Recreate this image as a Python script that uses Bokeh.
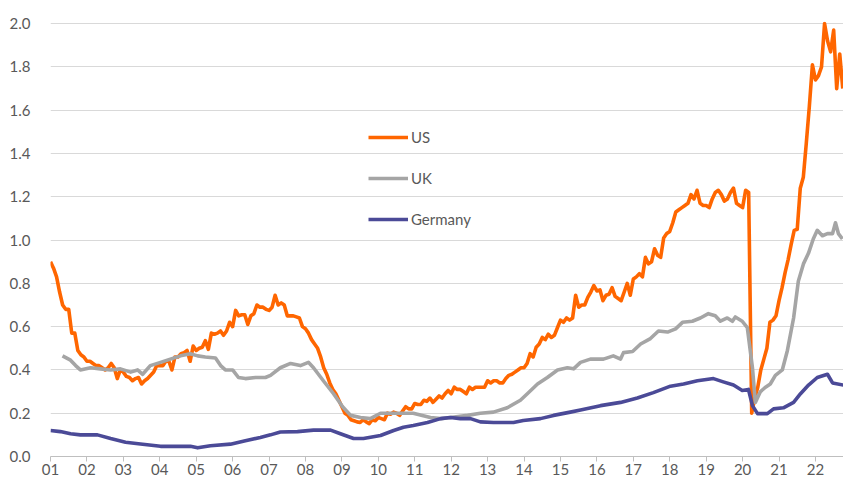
from bokeh.plotting import figure
from bokeh.models import Legend, LegendItem, FixedTicker, Range1d
from bokeh.embed import file_html
from bokeh.resources import INLINE

# ---- tick data ----
x_tick_years = list(range(2001, 2023))
x_tick_labels = ["01", "02", "03", "04", "05", "06", "07", "08", "09", "10", "11",
                 "12", "13", "14", "15", "16", "17", "18", "19", "20", "21", "22"]
y_ticks = [0.0, 0.2, 0.4, 0.6, 0.8, 1.0, 1.2, 1.4, 1.6, 1.8, 2.0]
y_tick_labels = ["0.0", "0.2", "0.4", "0.6", "0.8", "1.0", "1.2", "1.4", "1.6", "1.8", "2.0"]

# ---- US (monthly, Jan 2001 - Oct 2022) ----
us_2001 = [0.90, 0.87, 0.83, 0.76, 0.70, 0.68, 0.68, 0.57, 0.57, 0.49, 0.47, 0.46]
us_2002 = [0.44, 0.44, 0.43, 0.42, 0.42, 0.41, 0.40, 0.41, 0.43, 0.41, 0.36, 0.40]
us_2003 = [0.39, 0.37, 0.365, 0.35, 0.36, 0.365, 0.335, 0.35, 0.36, 0.375, 0.39, 0.42]
us_2004 = [0.42, 0.42, 0.44, 0.44, 0.40, 0.46, 0.46, 0.475, 0.48, 0.49, 0.44, 0.51]
us_2005 = [0.49, 0.50, 0.505, 0.535, 0.495, 0.57, 0.565, 0.57, 0.58, 0.56, 0.58, 0.62]
us_2006 = [0.60, 0.675, 0.65, 0.655, 0.655, 0.61, 0.65, 0.66, 0.70, 0.69, 0.69, 0.68]
us_2007 = [0.675, 0.69, 0.745, 0.70, 0.71, 0.70, 0.65, 0.65, 0.65, 0.645, 0.64, 0.60]
us_2008 = [0.59, 0.57, 0.54, 0.52, 0.50, 0.46, 0.41, 0.38, 0.34, 0.31, 0.29, 0.26]
us_2009 = [0.23, 0.20, 0.19, 0.17, 0.165, 0.16, 0.157, 0.17, 0.16, 0.152, 0.17, 0.165]
us_2010 = [0.18, 0.175, 0.17, 0.20, 0.195, 0.205, 0.20, 0.19, 0.21, 0.23, 0.22, 0.22]
us_2011 = [0.245, 0.24, 0.24, 0.26, 0.255, 0.27, 0.25, 0.265, 0.28, 0.27, 0.29, 0.305]
us_2012 = [0.29, 0.32, 0.31, 0.31, 0.30, 0.29, 0.32, 0.31, 0.32, 0.32, 0.32, 0.32]
us_2013 = [0.35, 0.34, 0.35, 0.35, 0.34, 0.34, 0.36, 0.375, 0.38, 0.39, 0.40, 0.41]
us_2014 = [0.41, 0.43, 0.475, 0.46, 0.505, 0.52, 0.55, 0.54, 0.565, 0.55, 0.56, 0.595]
us_2015 = [0.63, 0.62, 0.64, 0.63, 0.64, 0.745, 0.69, 0.70, 0.70, 0.735, 0.76, 0.79]
us_2016 = [0.765, 0.77, 0.72, 0.745, 0.75, 0.78, 0.74, 0.73, 0.72, 0.76, 0.80, 0.745]
us_2017 = [0.82, 0.83, 0.845, 0.83, 0.92, 0.89, 0.90, 0.96, 0.93, 0.92, 1.01, 1.03]
us_2018 = [1.04, 1.08, 1.13, 1.14, 1.15, 1.16, 1.17, 1.21, 1.19, 1.23, 1.17, 1.16]
us_2019 = [1.16, 1.15, 1.19, 1.22, 1.23, 1.21, 1.18, 1.19, 1.22, 1.24, 1.17, 1.16]
us_2020 = [1.15, 1.23, 1.22, 0.20, 0.27, 0.32, 0.40, 0.45, 0.50, 0.62, 0.63, 0.65]
us_2021 = [0.72, 0.78, 0.85, 0.91, 0.98, 1.045, 1.05, 1.24, 1.29, 1.45, 1.62, 1.81]
us_2022 = [1.74, 1.76, 1.80, 2.00, 1.92, 1.87, 1.97, 1.70, 1.86, 1.70]

us_values = (us_2001 + us_2002 + us_2003 + us_2004 + us_2005 + us_2006 + us_2007 +
             us_2008 + us_2009 + us_2010 + us_2011 + us_2012 + us_2013 + us_2014 +
             us_2015 + us_2016 + us_2017 + us_2018 + us_2019 + us_2020 + us_2021 + us_2022)
us_dates = [2001 + i / 12 for i in range(len(us_values))]

# ---- UK ----
uk_dates = [2001.33, 2001.55, 2001.69, 2001.82, 2002.10, 2002.37, 2002.65, 2002.92,
            2003.20, 2003.39, 2003.53, 2003.74, 2004.02, 2004.29, 2004.57, 2004.84,
            2005.04, 2005.25, 2005.53, 2005.67, 2005.80, 2006.00, 2006.16, 2006.35,
            2006.63, 2006.90, 2007.04, 2007.31, 2007.59, 2007.86, 2008.08, 2008.22,
            2008.49, 2008.77, 2009.02, 2009.24, 2009.51, 2009.78, 2010.06, 2010.53,
            2010.96, 2011.43, 2011.71, 2011.98, 2012.45, 2012.80, 2013.16, 2013.54,
            2013.90, 2014.09, 2014.37, 2014.64, 2014.92, 2015.19, 2015.36, 2015.55,
            2015.82, 2016.18, 2016.45, 2016.65, 2016.73, 2016.98, 2017.20, 2017.47,
            2017.69, 2017.94, 2018.16, 2018.35, 2018.62, 2018.84, 2019.06, 2019.25,
            2019.39, 2019.58, 2019.72, 2019.80, 2019.99, 2020.13, 2020.27, 2020.35,
            2020.49, 2020.63, 2020.76, 2020.90, 2021.09, 2021.23, 2021.40, 2021.53,
            2021.67, 2021.81, 2021.94, 2022.05, 2022.19, 2022.33, 2022.47, 2022.55,
            2022.63, 2022.74]
uk_values = [0.465, 0.445, 0.42, 0.40, 0.41, 0.405, 0.40, 0.405,
             0.39, 0.40, 0.38, 0.42, 0.435, 0.45, 0.465, 0.475,
             0.465, 0.46, 0.455, 0.42, 0.40, 0.40, 0.365, 0.36,
             0.365, 0.365, 0.375, 0.41, 0.43, 0.42, 0.435, 0.41,
             0.35, 0.29, 0.23, 0.19, 0.18, 0.175, 0.20, 0.20,
             0.20, 0.18, 0.175, 0.18, 0.19, 0.20, 0.205, 0.225,
             0.26, 0.29, 0.335, 0.365, 0.40, 0.41, 0.405, 0.435,
             0.45, 0.45, 0.465, 0.45, 0.48, 0.485, 0.52, 0.545,
             0.58, 0.575, 0.59, 0.62, 0.625, 0.64, 0.66, 0.65,
             0.625, 0.64, 0.625, 0.645, 0.625, 0.595, 0.41, 0.25,
             0.30, 0.32, 0.335, 0.375, 0.40, 0.49, 0.64, 0.81,
             0.89, 0.94, 1.005, 1.045, 1.02, 1.03, 1.03, 1.08,
             1.03, 1.005]

# ---- Germany ----
de_dates = [2001.00, 2001.27, 2001.55, 2001.82, 2002.29, 2002.65, 2003.06, 2003.47,
            2004.02, 2004.57, 2004.84, 2005.04, 2005.39, 2005.94, 2006.35, 2006.76,
            2007.04, 2007.31, 2007.78, 2008.22, 2008.69, 2008.96, 2009.32, 2009.59,
            2010.06, 2010.42, 2010.69, 2010.96, 2011.35, 2011.71, 2011.98, 2012.25,
            2012.53, 2012.80, 2013.16, 2013.71, 2013.98, 2014.45, 2014.81, 2015.27,
            2015.55, 2016.10, 2016.65, 2017.11, 2017.55, 2018.02, 2018.38, 2018.76,
            2019.20, 2019.47, 2019.75, 2019.99, 2020.16, 2020.27, 2020.41, 2020.68,
            2020.85, 2021.12, 2021.40, 2021.59, 2021.81, 2022.05, 2022.33, 2022.47,
            2022.77]
de_values = [0.12, 0.115, 0.105, 0.10, 0.10, 0.083, 0.066, 0.058,
             0.047, 0.047, 0.047, 0.04, 0.05, 0.057, 0.073, 0.088,
             0.10, 0.113, 0.115, 0.122, 0.122, 0.105, 0.083, 0.083,
             0.097, 0.12, 0.135, 0.143, 0.157, 0.175, 0.18, 0.175,
             0.175, 0.16, 0.157, 0.157, 0.166, 0.175, 0.19, 0.205,
             0.215, 0.235, 0.25, 0.27, 0.295, 0.325, 0.335, 0.35,
             0.36, 0.345, 0.33, 0.305, 0.31, 0.235, 0.198, 0.198,
             0.22, 0.225, 0.25, 0.29, 0.33, 0.365, 0.38, 0.34,
             0.33]

FONT = "Lato"
TXT = "#595959"
FS = "15px"

p = figure(width=843, height=481, output_backend="svg", toolbar_location=None,
           x_range=Range1d(2001.0, 2022.77), y_range=Range1d(0.0, 2.01),
           min_border_left=50, min_border_right=0, min_border_top=21, min_border_bottom=25)
p.outline_line_color = None
p.background_fill_color = "white"
p.border_fill_color = "white"

r_us = p.line(us_dates, us_values, line_color="#FF6600", line_width=3.6, line_join="round")
r_uk = p.line(uk_dates, uk_values, line_color="#A5A5A5", line_width=3.6, line_join="round")
r_de = p.line(de_dates, de_values, line_color="#4B4A97", line_width=3.6, line_join="round")

p.xaxis.ticker = FixedTicker(ticks=x_tick_years)
p.xaxis.major_label_overrides = {y: l for y, l in zip(x_tick_years, x_tick_labels)}
p.xaxis.axis_line_color = "#BFBFBF"
p.xaxis.major_tick_line_color = "#BFBFBF"
p.xaxis.major_tick_in = 0
p.xaxis.major_tick_out = 5
p.xaxis.minor_tick_line_color = None
p.xaxis.major_label_standoff = 2
p.xaxis.major_label_text_font = FONT
p.xaxis.major_label_text_font_size = FS
p.xaxis.major_label_text_color = TXT

p.yaxis.ticker = FixedTicker(ticks=y_ticks)
p.yaxis.major_label_overrides = {v: l for v, l in zip(y_ticks, y_tick_labels)}
p.yaxis.axis_line_color = None
p.yaxis.major_tick_line_color = None
p.yaxis.minor_tick_line_color = None
p.yaxis.major_label_standoff = 14
p.yaxis.major_label_text_font = FONT
p.yaxis.major_label_text_font_size = FS
p.yaxis.major_label_text_color = TXT

p.xgrid.visible = False
p.ygrid.ticker = FixedTicker(ticks=y_ticks)
p.ygrid.grid_line_color = "#D9D9D9"
p.ygrid.grid_line_width = 1

legend = Legend(items=[LegendItem(label="US", renderers=[r_us]),
                       LegendItem(label="UK", renderers=[r_uk]),
                       LegendItem(label="Germany", renderers=[r_de])],
                location=(318, 227), orientation="vertical", padding=0, margin=0,
                spacing=21, glyph_width=40, glyph_height=20, label_height=20,
                label_standoff=3, border_line_color=None, background_fill_alpha=0,
                label_text_font=FONT, label_text_font_size=FS,
                label_text_color=TXT)
p.add_layout(legend)

open("out.html", "w").write(file_html(p, INLINE))
